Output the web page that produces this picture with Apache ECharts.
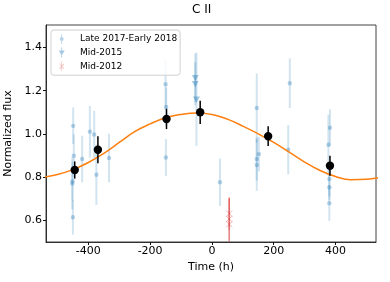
<!DOCTYPE html>
<html>
<head>
<meta charset="utf-8">
<script src="https://cdn.jsdelivr.net/npm/echarts@6/dist/echarts.min.js"></script>
<style>html,body{margin:0;padding:0;background:#fff}#c{width:390px;height:282px}</style>
</head>
<body>
<div id="c"></div>
<script>
// Late 2017-Early 2018 points
const lateT   = [-449, -447, -451, -452, -450, -420, -395, -381, -374, -333, -150, -148, -149, 26, 145, 145, 145, 152, 252, 247, 382, 377, 380, 380, 380];
const lateF   = [1.037, 0.898, 0.78, 0.77, 0.613, 0.883, 1.01, 0.997, 0.81, 0.888, 1.23, 1.125, 0.89, 0.775, 1.12, 0.883, 0.855, 0.906, 1.235, 0.926, 1.028, 0.949, 0.79, 0.752, 0.678];
const lateErr = [0.085, 0.10, 0.09, 0.12, 0.08, 0.108, 0.12, 0.11, 0.14, 0.113, 0.117, 0.09, 0.085, 0.11, 0.16, 0.10, 0.12, 0.08, 0.115, 0.114, 0.085, 0.14, 0.08, 0.06, 0.082];
// Mid-2015 points
const m15T   = [-54, -54, -50];
const m15F   = [1.26, 1.232, 1.16];
const m15Err = [0.113, 0.10, 0.216];
// Mid-2012 points
const m12T   = [56, 56, 56];
const m12F   = [0.63, 0.605, 0.58];
const m12Err = [0.075, 0.10, 0.12];
// Binned points
const binT   = [-444, -369, -147, -38, 182, 382];
const binF   = [0.832, 0.926, 1.069, 1.10, 0.989, 0.852];
const binErr = [0.04, 0.063, 0.047, 0.054, 0.046, 0.046];
// Model curve
const modelT = [-550, -500, -450, -400, -350, -300, -250, -200, -150, -100, -50, 0, 50, 100, 150, 200, 250, 300, 350, 400, 450, 500, 550];
const modelF = [0.797, 0.811, 0.834, 0.867, 0.909, 0.960, 1.010, 1.046, 1.075, 1.090, 1.097, 1.090, 1.068, 1.036, 1.000, 0.960, 0.915, 0.869, 0.830, 0.802, 0.787, 0.789, 0.800];
// Ticks
const xTicks = [-400, -200, 0, 200, 400];
const yTicks = [0.6, 0.8, 1.0, 1.2, 1.4];
const legendNames = ['Late 2017-Early 2018', 'Mid-2015', 'Mid-2012'];

const font = 'DejaVu Sans';
const blueA = 'rgba(31,119,180,0.32)';
const blueBar = 'rgba(31,119,180,0.2)';
const redA = 'rgba(214,39,40,0.35)';

function zip3(a, b, c) { return a.map((v, i) => [v, b[i], c[i]]); }

function errSeries(name, data, marker, barColor, markColor, barWidth, size, z) {
  return {
    name: name, type: 'custom', clip: true, z: z,
    itemStyle: { color: markColor },
    data: data,
    renderItem: function (params, api) {
      const t = api.value(0), f = api.value(1), e = api.value(2);
      const p = api.coord([t, f]);
      const p1 = api.coord([t, f - e]);
      const p2 = api.coord([t, f + e]);
      const children = [{
        type: 'line', shape: { x1: p1[0], y1: p1[1], x2: p2[0], y2: p2[1] },
        style: { stroke: barColor, lineWidth: barWidth }
      }];
      const x = p[0], y = p[1], r = size;
      if (marker === 'circle') {
        children.push({ type: 'circle', shape: { cx: x, cy: y, r: r }, style: { fill: markColor } });
      } else if (marker === 'tri') {
        children.push({ type: 'polygon', shape: { points: [[x - r, y - r * 0.8], [x + r, y - r * 0.8], [x, y + r]] }, style: { fill: markColor } });
      } else if (marker === 'x') {
        children.push({ type: 'line', shape: { x1: x - r, y1: y - r, x2: x + r, y2: y + r }, style: { stroke: markColor, lineWidth: 1 } });
        children.push({ type: 'line', shape: { x1: x - r, y1: y + r, x2: x + r, y2: y - r }, style: { stroke: markColor, lineWidth: 1 } });
      }
      return { type: 'group', children: children };
    }
  };
}

// tiny corner dots keep icon bounding boxes 20x10
const pad = ' M0,0 L0.01,0 L0.01,0.01 Z M19.99,9.99 L20,9.99 L20,10 Z';

const chart = echarts.init(document.getElementById('c'), null, { renderer: 'canvas' });
chart.setOption({
  animation: false,
  backgroundColor: '#fff',
  textStyle: { fontFamily: font },
  grid: { left: 46, right: 14, top: 25, bottom: 40, containLabel: false, outerBoundsMode: 'none', show: true, borderColor: '#111', borderWidth: 0.8, backgroundColor: 'transparent' },
  graphic: [{
    type: 'text', left: 192, top: 4,
    style: { text: 'C II', fontFamily: font, fontSize: 12, fill: '#000' }
  }],
  legend: {
    orient: 'vertical', left: 51, top: 30,
    data: [
      { name: legendNames[0], icon: 'path://M6.3,0 L7.1,0 L7.1,3.6 L6.3,3.6 Z M6.3,6.4 L7.1,6.4 L7.1,10 L6.3,10 Z M4.7,5 A2,2 0 1 1 8.7,5 A2,2 0 1 1 4.7,5 Z' + pad },
      { name: legendNames[1], icon: 'path://M6.3,0 L7.1,0 L7.1,10 L6.3,10 Z M3.7,3 L9.7,3 L6.7,8 Z' + pad },
      { name: legendNames[2], icon: 'path://M6.4,0 L7.0,0 L7.0,10 L6.4,10 Z M4.2,2.2 L4.8,2.2 L9.2,7.2 L8.6,7.8 Z M8.6,2.2 L9.2,2.8 L4.8,7.8 L4.2,7.2 Z' + pad }
    ],
    itemWidth: 20, itemHeight: 10, itemGap: 3.6,
    textStyle: { fontFamily: font, fontSize: 9, color: '#000' },
    borderColor: '#d0d0d0', borderWidth: 1, borderRadius: 3,
    backgroundColor: 'rgba(255,255,255,0.8)',
    padding: [4, 3, 4, 4]
  },
  xAxis: {
    type: 'value', min: -537, max: 531,
    name: 'Time (h)', nameLocation: 'middle', nameGap: 18,
    nameTextStyle: { fontFamily: font, fontSize: 11, color: '#000' },
    axisLine: { show: true, onZero: false, lineStyle: { color: '#111', width: 0.8 } },
    axisTick: { show: true, length: 3, customValues: xTicks, lineStyle: { color: '#111' } },
    axisLabel: { customValues: xTicks, fontFamily: font, fontSize: 11, color: '#000', margin: 4 },
    splitLine: { show: false }
  },
  yAxis: {
    type: 'value', min: 0.498, max: 1.505,
    name: 'Normalized flux', nameLocation: 'middle', nameGap: 27,
    nameTextStyle: { fontFamily: font, fontSize: 11, color: '#000' },
    axisLine: { show: true, onZero: false, lineStyle: { color: '#111', width: 0.8 } },
    axisTick: { show: true, length: 3, customValues: yTicks, lineStyle: { color: '#111' } },
    axisLabel: { customValues: yTicks, fontFamily: font, fontSize: 11, color: '#000', margin: 4, formatter: v => v.toFixed(1) },
    splitLine: { show: false }
  },
  series: [
    errSeries(legendNames[0], zip3(lateT, lateF, lateErr), 'circle', blueBar, blueA, 2, 2.2, 2),
    errSeries(legendNames[1], zip3(m15T, m15F, m15Err), 'tri', blueBar, 'rgba(31,119,180,0.4)', 2, 3.5, 2),
    errSeries(legendNames[2], zip3(m12T, m12F, m12Err), 'x', redA, redA, 1.5, 3, 2),
    {
      name: 'model', type: 'line', data: modelT.map((t, i) => [t, modelF[i]]),
      smooth: 0.4, showSymbol: false, symbol: 'none', clip: true, z: 3,
      lineStyle: { color: '#ff7f0e', width: 1.5 }
    },
    errSeries('binned', zip3(binT, binF, binErr), 'circle', '#000', '#000', 1.5, 4.2, 4)
  ]
});
</script>
</body>
</html>
